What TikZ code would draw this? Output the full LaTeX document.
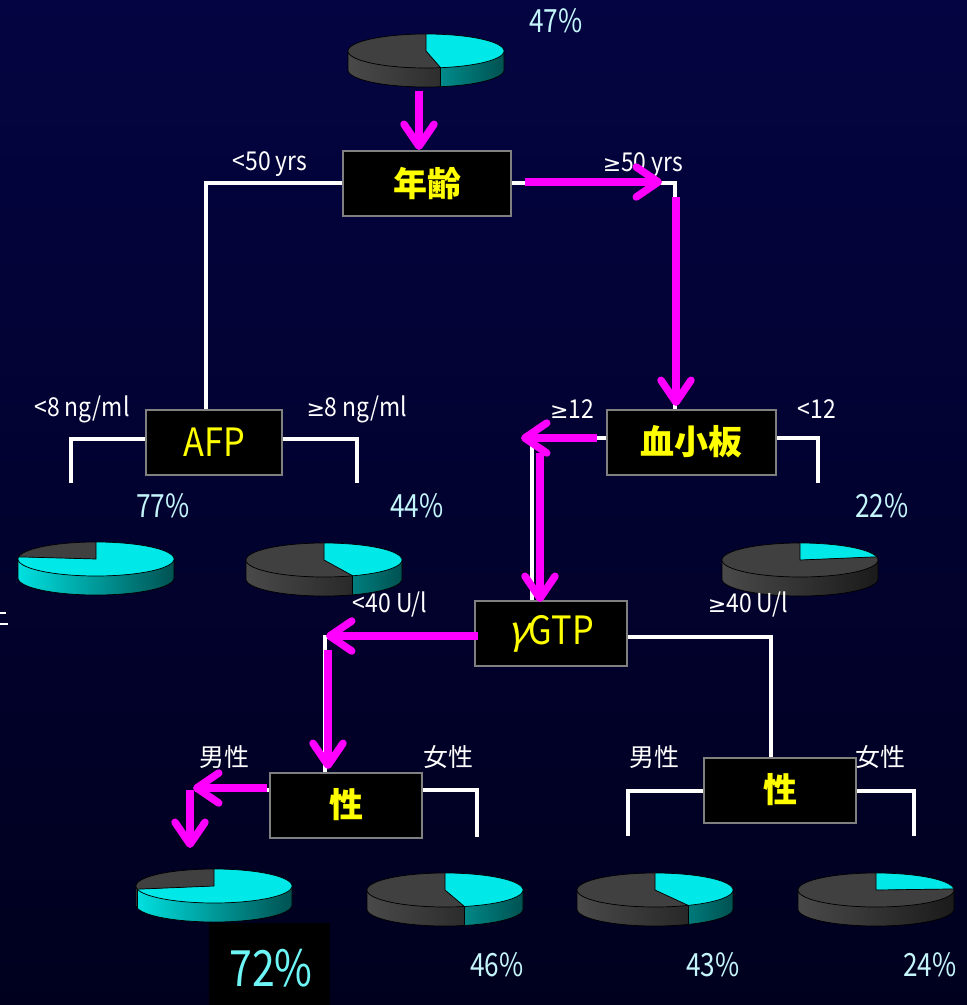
\documentclass[tikz,border=0pt]{standalone}
\usepackage{fontspec}
\usetikzlibrary{arrows.meta}
\newfontfamily\jp{Noto Sans CJK JP}
\newfontfamily\lat[FakeStretch=0.88]{Noto Sans CJK JP}
\newfontfamily\pcf[FakeStretch=0.82]{Noto Sans CJK JP}
\newfontfamily\gam[FakeSlant=0.25]{Noto Sans CJK JP}
\newfontfamily\sym{DejaVu Sans}
\newcommand{\mygeq}{{\sym\fontsize{22}{24}\selectfont ≥}}
\definecolor{bgtop}{RGB}{4,4,66}
\definecolor{bgbot}{RGB}{0,0,30}
\definecolor{mag}{RGB}{255,0,255}
\definecolor{yel}{RGB}{255,255,0}
\definecolor{pct}{RGB}{195,245,250}
\definecolor{pctb}{RGB}{110,245,245}
\definecolor{cyt}{RGB}{0,232,232}
\definecolor{cysl}{RGB}{0,225,225}
\definecolor{cysr}{RGB}{0,80,80}
\definecolor{dkt}{RGB}{64,64,64}
\definecolor{dksl}{RGB}{74,74,74}
\definecolor{dksr}{RGB}{26,26,26}
\definecolor{boxedge}{RGB}{128,128,128}
\newcommand{\piechart}[3]{%
  \pgfmathsetmacro\pe{-90+3.6*#3}%
  \pgfmathsetmacro\ce{min(180,\pe)}%
  \pgfmathsetmacro\ds{max(0,\pe)}%
  \ifdim\pe pt>0pt
    \begin{scope}
      \clip plot[domain=0:\ce,samples=30] ({#1+78*cos(\x)},{#2+17*sin(\x)}) -- plot[domain=\ce:0,samples=30] ({#1+78*cos(\x)},{#2+19+17*sin(\x)}) -- cycle;
      \fill[left color=cysl,right color=cysr] (#1-79,#2-1) rectangle (#1+79,#2+40);
    \end{scope}
  \fi
  \ifdim\pe pt<180pt
    \begin{scope}
      \clip plot[domain=\ds:180,samples=30] ({#1+78*cos(\x)},{#2+17*sin(\x)}) -- plot[domain=180:\ds,samples=30] ({#1+78*cos(\x)},{#2+19+17*sin(\x)}) -- cycle;
      \fill[left color=dksl,right color=dksr] (#1-79,#2-1) rectangle (#1+79,#2+40);
    \end{scope}
  \fi
  \draw[black,line width=0.7pt] (#1-78,#2) -- (#1-78,#2+19) -- plot[domain=180:0,samples=40] ({#1+78*cos(\x)},{#2+19+17*sin(\x)}) -- (#1+78,#2);
  \ifdim\pe pt>0pt \ifdim\pe pt<180pt
    \draw[black,line width=0.7pt] ({#1+78*cos(\pe)},{#2+17*sin(\pe)}) -- ++(0,19);
  \fi\fi
  \fill[cyt] (#1,#2) -- plot[domain=-90:\pe,samples=60] ({#1+78*cos(\x)},{#2+17*sin(\x)}) -- cycle;
  \fill[dkt] (#1,#2) -- plot[domain=\pe:270,samples=60] ({#1+78*cos(\x)},{#2+17*sin(\x)}) -- cycle;
  \draw[black,line width=0.7pt] plot[domain=0:360,samples=80] ({#1+78*cos(\x)},{#2+17*sin(\x)});
  \draw[black,line width=0.7pt] (#1,#2-17) -- (#1,#2) -- ({#1+78*cos(\pe)},{#2+17*sin(\pe)});
}
\tikzset{
  bx/.style={draw=boxedge,line width=2pt,fill=black,minimum height=65pt,inner sep=0pt,text=yel},
  boxjp/.style={font=\jp\bfseries\fontsize{34}{36}\selectfont},
  boxlat/.style={font=\lat\fontsize{39}{40}\selectfont},
  lbl/.style={text=white,font=\lat\fontsize{26}{28}\selectfont,inner sep=0pt},
  lbljp/.style={text=white,font=\jp\fontsize{25}{26}\selectfont,inner sep=0pt},
  pcts/.style={text=pct,font=\pcf\fontsize{32}{34}\selectfont,inner sep=0pt},
  wl/.style={draw=white,line width=4pt},
  ma/.style={draw=mag,line width=7.5pt,-{Straight Barb[length=22pt,width=30pt,round]}},
}
\begin{document}
\begin{tikzpicture}[x=1pt,y=-1pt]
\useasboundingbox (0,0) rectangle (967,1005);
\fill[top color=bgtop,bottom color=bgbot] (0,0) rectangle (967,1005);
% pies
\piechart{426}{51}{47}
\piechart{96}{559}{77}
\piechart{324}{560}{44}
\piechart{800}{560}{22}
\piechart{214}{886}{72}
\piechart{445}{890}{46}
\piechart{655}{890}{43}
\piechart{876}{890}{24}
% boxes
\node[bx,boxjp,minimum width=168pt] (age) at (427,183.5) {年齢};
\node[bx,boxlat,minimum width=136pt] (afp) at (214,442) {AFP};
\node[bx,boxjp,minimum width=169pt] (plt) at (691.5,442) {血小板};
\node[bx,boxlat,minimum width=152pt] (ggt) at (551,633.5) {{\gam γ}GTP};
\node[bx,boxjp,minimum width=152pt] (sexL) at (346,805) {性};
\node[bx,boxjp,minimum width=152pt] (sexR) at (780,790) {性};
% corner coordinates
\coordinate (c1) at (206,183);
\coordinate (c2) at (675,183);
\coordinate (a1) at (71,439);
\coordinate (a2) at (71,483);
\coordinate (a3) at (357,439);
\coordinate (a4) at (357,483);
\coordinate (p1) at (532,438);
\coordinate (p2) at (818,438);
\coordinate (p3) at (818,483);
\coordinate (g1) at (325,637);
\coordinate (g2) at (771,637);
\coordinate (s1) at (195,790);
\coordinate (s2) at (477,790);
\coordinate (s3) at (477,837);
\coordinate (r1) at (628,791);
\coordinate (r2) at (628,836);
\coordinate (r3) at (914,791);
\coordinate (r4) at (914,836);
% white tree lines
\draw[wl] (c1 -| age.west) -- (c1) -- (c1 |- afp.north);
\draw[wl] (c2 -| age.east) -- (c2) -- (c2 |- plt.north);
\draw[wl] (a1 -| afp.west) -- (a1) -- (a2);
\draw[wl] (a3 -| afp.east) -- (a3) -- (a4);
\draw[wl] (p1 -| plt.west) -- (p1) -- (p1 |- ggt.north);
\draw[wl] (p2 -| plt.east) -- (p2) -- (p3);
\draw[wl] (g1 -| ggt.west) -- (g1) -- (g1 |- sexL.north);
\draw[wl] (g2 -| ggt.east) -- (g2) -- (g2 |- sexR.north);
\draw[wl] (s1 -| sexL.west) -- (s1);
\draw[wl] (s2 -| sexL.east) -- (s2) -- (s3);
\draw[wl] (r1 -| sexR.west) -- (r1) -- (r2);
\draw[wl] (r3 -| sexR.east) -- (r3) -- (r4);
% labels
\node[lbl] (l1) at (270,164) {<50 yrs};
\node[lbl] (l2) at (643,165) {\mygeq50 yrs};
\node[lbl] (l3) at (82,409) {<8 ng/ml};
\node[lbl] (l4) at (357,409) {\mygeq8 ng/ml};
\node[lbl] (l5) at (572,409) {\mygeq12};
\node[lbl] (l6) at (817,409) {<12};
\node[lbl] (l7) at (390,604) {<40 U/l};
\node[lbl] (l8) at (748,604) {\mygeq40 U/l};
\node[lbljp] (l9) at (224,757) {男性};
\node[lbljp] (l10) at (448,757) {女性};
\node[lbljp] (l11) at (654,757) {男性};
\node[lbljp] (l12) at (880,757) {女性};
% percentages
\node[pcts] (q1) at (556,21) {47\%};
\node[pcts] (q2) at (163,506) {77\%};
\node[pcts] (q3) at (417,506) {44\%};
\node[pcts] (q4) at (882,506) {22\%};
\fill[black] (209,923) rectangle (330,1005);
\node[pcts,text=pctb,font=\pcf\fontsize{50}{52}\selectfont] (q5) at (271,968) {72\%};
\node[pcts] (q6) at (497,965) {46\%};
\node[pcts] (q7) at (713,965) {43\%};
\node[pcts] (q8) at (930,965) {24\%};
% magenta arrows
\coordinate (m1a) at (419,91);  \coordinate (m1b) at (419,150);
\coordinate (m2a) at (525,182); \coordinate (m2b) at (662,182);
\coordinate (m3a) at (676,197); \coordinate (m3b) at (676,406);
\coordinate (m4a) at (597,438); \coordinate (m4b) at (521,438);
\coordinate (m5a) at (540,453); \coordinate (m5b) at (540,602);
\coordinate (m6a) at (478,636); \coordinate (m6b) at (326,636);
\coordinate (m7a) at (328,650); \coordinate (m7b) at (328,769);
\coordinate (m8a) at (267,788); \coordinate (m8b) at (193,788);
\coordinate (m9a) at (190,790); \coordinate (m9b) at (190,848);
\foreach \i in {1,...,9} \draw[ma] (m\i a) -- (m\i b);
% left-edge fragment
\draw[white,line width=2.5pt] (0,613) -- (6,613);
\draw[white,line width=2.5pt] (0,624) -- (8,624);
\end{tikzpicture}
\end{document}
